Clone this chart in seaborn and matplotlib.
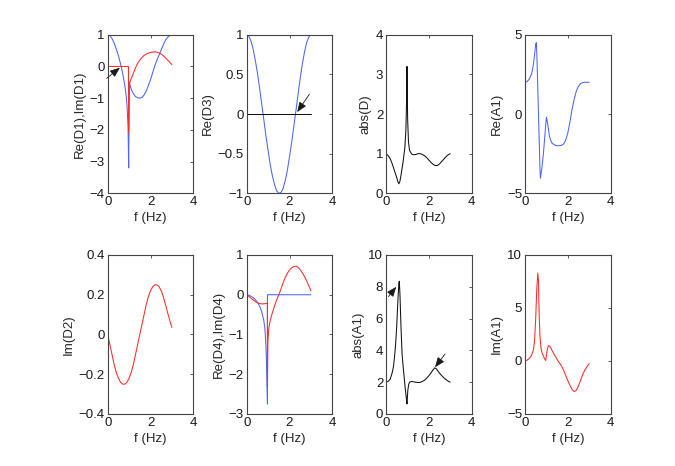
#!/usr/bin/env python3
"""
Frequency response panels: D1..D4, D and A1 against f
"""

import numpy as np
import matplotlib
matplotlib.use('Agg')
import matplotlib.pyplot as plt
import seaborn as sns
from matplotlib.ticker import FuncFormatter

sns.set_theme(style='white')
plt.rcParams['font.family'] = ['Liberation Sans', 'DejaVu Sans']
plt.rcParams['axes.unicode_minus'] = True

# =============================================================================
# DATA
# =============================================================================
# Re(D1), Im(D1)
f_re_d1 = [0, 0.1, 0.2, 0.3, 0.4, 0.5, 0.6, 0.7, 0.8, 0.85, 0.9, 0.95, 0.97, 0.98,
           1.01, 1.1, 1.2, 1.3, 1.4, 1.5, 1.6, 1.7, 1.8, 1.9, 2.0, 2.1, 2.2,
           2.3, 2.4, 2.5, 2.6, 2.7, 2.8, 2.9, 3.0]
re_d1 = [1.0, 0.97, 0.88, 0.74, 0.55, 0.34, 0.08, -0.22, -0.6, -0.85, -1.2, -1.9, -2.7, -3.2,
         -0.5, -0.72, -0.86, -0.95, -0.99, -1.0, -0.98, -0.9, -0.78, -0.6, -0.42, -0.2, 0.02,
         0.2, 0.36, 0.52, 0.68, 0.83, 0.92, 0.98, 1.0]
f_im_d1 = [0, 0.97, 0.975, 1.01, 1.1, 1.2, 1.3, 1.4, 1.5, 1.6, 1.7, 1.8, 1.9, 2.0,
           2.1, 2.2, 2.3, 2.4, 2.5, 2.6, 2.7, 2.8, 2.9, 3.0]
im_d1 = [0.0, 0.0, -2.1, -0.55, -0.38, -0.22, -0.04, 0.1, 0.2, 0.28, 0.35, 0.39, 0.42, 0.44,
         0.45, 0.46, 0.45, 0.43, 0.39, 0.34, 0.27, 0.2, 0.13, 0.06]

# Re(D3)
f_d3 = [0, 0.1, 0.2, 0.3, 0.4, 0.5, 0.6, 0.7, 0.8, 0.9, 1.0, 1.1, 1.2, 1.3, 1.4, 1.5,
        1.6, 1.7, 1.8, 1.9, 2.0, 2.1, 2.2, 2.3, 2.4, 2.5, 2.6, 2.7, 2.8, 2.9, 3.0]
re_d3 = [1.0, 0.98, 0.92, 0.82, 0.68, 0.52, 0.33, 0.13, -0.07, -0.28, -0.46, -0.64, -0.78,
         -0.89, -0.97, -1.0, -0.99, -0.94, -0.84, -0.71, -0.54, -0.36, -0.16, 0.04, 0.25,
         0.45, 0.63, 0.78, 0.9, 0.97, 1.0]
f_zero_line = [0, 3]
zero_line = [0, 0]

# abs(D)
f_abs_d = [0, 0.1, 0.2, 0.3, 0.4, 0.5, 0.55, 0.6, 0.65, 0.7, 0.8, 0.88, 0.93, 0.96, 0.98,
           1.01, 1.05, 1.1, 1.2, 1.3, 1.4, 1.5, 1.6, 1.7, 1.8, 1.9, 2.0, 2.1, 2.2, 2.3,
           2.4, 2.5, 2.6, 2.7, 2.8, 2.9, 3.0]
abs_d = [1.0, 0.95, 0.87, 0.73, 0.56, 0.4, 0.3, 0.24, 0.3, 0.45, 0.8, 1.15, 1.6, 2.3, 3.2,
         1.9, 1.3, 1.08, 0.99, 0.97, 0.98, 1.0, 1.0, 0.98, 0.95, 0.9, 0.84, 0.78, 0.73, 0.7,
         0.7, 0.74, 0.8, 0.86, 0.92, 0.97, 1.0]

# Re(A1)
f_re_a1 = [0, 0.1, 0.2, 0.3, 0.35, 0.4, 0.45, 0.5, 0.53, 0.56, 0.6, 0.65, 0.7, 0.72, 0.78,
           0.86, 0.95, 1.0, 1.06, 1.1, 1.14, 1.2, 1.25, 1.3, 1.4, 1.5, 1.6, 1.7, 1.8, 1.9,
           2.0, 2.1, 2.2, 2.3, 2.4, 2.5, 2.6, 2.7, 2.8, 2.9, 3.0]
re_a1 = [2.0, 2.05, 2.2, 2.5, 2.8, 3.2, 3.8, 4.4, 4.5, 3.5, 1.5, -1.0, -3.5, -4.05, -3.5,
         -2.5, -1.0, -0.2, -0.6, -1.0, -1.39, -1.65, -1.8, -1.88, -1.97, -2.0, -2.0, -1.98,
         -1.9, -1.65, -1.2, -0.5, 0.3, 0.95, 1.45, 1.75, 1.92, 1.98, 2.0, 2.0, 2.0]

# Im(D2)
f_d2 = [0, 0.1, 0.2, 0.3, 0.4, 0.5, 0.6, 0.7, 0.8, 0.9, 1.0, 1.1, 1.2, 1.3, 1.4, 1.5,
        1.6, 1.7, 1.8, 1.9, 2.0, 2.1, 2.2, 2.3, 2.4, 2.5, 2.6, 2.7, 2.8, 2.9, 3.0]
im_d2 = [0.0, -0.05, -0.1, -0.15, -0.19, -0.22, -0.24, -0.25, -0.25, -0.24, -0.22, -0.19,
         -0.15, -0.1, -0.05, 0.0, 0.05, 0.1, 0.15, 0.19, 0.22, 0.24, 0.25, 0.25, 0.24, 0.22,
         0.19, 0.15, 0.11, 0.07, 0.035]

# Re(D4), Im(D4)
f_re_d4 = [0, 0.1, 0.2, 0.3, 0.4, 0.5, 0.6, 0.7, 0.8, 0.85, 0.9, 0.93, 0.95, 0.97, 0.97,
           3.0]
re_d4 = [0.0, -0.01, -0.04, -0.07, -0.12, -0.19, -0.28, -0.42, -0.65, -0.85, -1.3, -1.8,
         -2.3, -2.75, 0.0, 0.0]
f_im_d4 = [0, 0.1, 0.2, 0.3, 0.4, 0.5, 0.6, 0.7, 0.8, 0.9, 0.965, 0.97, 0.99, 1.03, 1.1,
           1.2, 1.3, 1.4, 1.5, 1.6, 1.7, 1.8, 1.9, 2.0, 2.1, 2.2, 2.3, 2.4, 2.5, 2.6, 2.7,
           2.8, 2.9, 3.0]
im_d4 = [0.0, -0.04, -0.09, -0.13, -0.17, -0.2, -0.22, -0.23, -0.23, -0.22, -0.21, -2.35,
         -1.2, -0.85, -0.65, -0.45, -0.28, -0.13, 0.0, 0.14, 0.3, 0.43, 0.54, 0.62, 0.68,
         0.71, 0.72, 0.69, 0.63, 0.55, 0.46, 0.35, 0.23, 0.1]

# abs(A1)
f_abs_a1 = [0, 0.1, 0.2, 0.3, 0.35, 0.4, 0.45, 0.5, 0.55, 0.6, 0.62, 0.65, 0.7, 0.75, 0.8,
            0.85, 0.9, 0.95, 0.98, 1.02, 1.06, 1.1, 1.2, 1.3, 1.4, 1.5, 1.6, 1.7, 1.8, 1.9,
            2.0, 2.1, 2.2, 2.28, 2.35, 2.4, 2.5, 2.6, 2.7, 2.8, 2.9, 3.0]
abs_a1 = [2.0, 2.05, 2.2, 2.65, 3.0, 3.6, 4.4, 5.5, 7.0, 8.2, 8.35, 7.6, 5.5, 3.8, 3.0,
          2.3, 1.6, 1.0, 0.63, 1.5, 1.85, 2.0, 2.05, 2.02, 2.0, 1.98, 1.99, 2.05, 2.12, 2.25,
          2.4, 2.58, 2.78, 2.9, 2.85, 2.75, 2.57, 2.42, 2.28, 2.17, 2.07, 2.0]

# Im(A1)
f_im_a1 = [0, 0.1, 0.2, 0.3, 0.4, 0.45, 0.5, 0.55, 0.6, 0.63, 0.66, 0.7, 0.75, 0.8, 0.86,
           0.92, 0.97, 1.0, 1.04, 1.1, 1.15, 1.2, 1.3, 1.4, 1.5, 1.6, 1.7, 1.8, 1.9, 2.0,
           2.1, 2.2, 2.3, 2.4, 2.5, 2.6, 2.7, 2.8, 2.9, 3.0]
im_a1 = [0.0, 0.08, 0.25, 0.5, 1.1, 2.0, 4.0, 6.8, 8.3, 7.5, 4.5, 2.3, 1.2, 0.75, 0.45,
         0.2, 0.05, 0.5, 1.1, 1.45, 1.4, 1.25, 0.85, 0.5, 0.15, -0.15, -0.45, -0.85, -1.35,
         -1.85, -2.3, -2.7, -2.88, -2.75, -2.35, -1.8, -1.25, -0.85, -0.52, -0.25]

# =============================================================================
# PLOT
# =============================================================================
BLUE = '#4a64ff'
RED = '#ff2a2a'
BLACK = '#111111'
FS = 9.5

fig = plt.figure(figsize=(6.75, 4.66), dpi=100)
lefts = [107.7 / 675, 246.7 / 675, 386 / 675, 525 / 675]
width = 85.6 / 675
rows = [(0.5852, 0.3403), (0.1116, 0.3412)]

fmt = FuncFormatter(lambda v, pos: f'{v:g}'.replace('-', '\u2212'))


def panel(ax, series, ylim, yticks, ylabel):
    for fx, fy, col in series:
        sns.lineplot(x=fx, y=fy, ax=ax, color=col, lw=0.75,
                     estimator=None, sort=False)
    ax.set_xlim(0, 4)
    ax.set_ylim(*ylim)
    ax.set_xticks([0, 2, 4])
    ax.set_yticks(yticks)
    ax.xaxis.set_major_formatter(fmt)
    ax.yaxis.set_major_formatter(fmt)
    ax.tick_params(direction='in', length=2.5, width=0.5, labelsize=FS,
                   top=True, right=True, pad=2, colors='k')
    for s in ax.spines.values():
        s.set_linewidth(0.8)
        s.set_color('#444444')
    ax.set_xlabel('f (Hz)', fontsize=FS, labelpad=3)
    ax.set_ylabel(ylabel, fontsize=FS, labelpad=3)


def arrow(ax, tail, head):
    ax.annotate('', xy=head, xytext=tail, annotation_clip=False,
                arrowprops=dict(arrowstyle='-|>,head_length=0.5,head_width=0.2',
                                color='k', lw=0.6, mutation_scale=12,
                                shrinkA=0, shrinkB=0))


axes = []
for r, (b, h) in enumerate(rows):
    for c in range(4):
        axes.append(fig.add_axes([lefts[c], b, width, h]))

panel(axes[0], [(f_re_d1, re_d1, BLUE), (f_im_d1, im_d1, RED)],
      (-4, 1), [-4, -3, -2, -1, 0, 1], 'Re(D1),Im(D1)')
arrow(axes[0], (-0.05, -0.375), (0.57, -0.04))

panel(axes[1], [(f_d3, re_d3, BLUE), (f_zero_line, zero_line, BLACK)],
      (-1, 1), [-1, -0.5, 0, 0.5, 1], 'Re(D3)')
arrow(axes[1], (2.93, 0.25), (2.36, 0.025))

panel(axes[2], [(f_abs_d, abs_d, BLACK)],
      (0, 4), [0, 1, 2, 3, 4], 'abs(D)')

panel(axes[3], [(f_re_a1, re_a1, BLUE)],
      (-5, 5), [-5, 0, 5], 'Re(A1)')

panel(axes[4], [(f_d2, im_d2, RED)],
      (-0.4, 0.4), [-0.4, -0.2, 0, 0.2, 0.4], 'Im(D2)')

panel(axes[5], [(f_re_d4, re_d4, BLUE), (f_im_d4, im_d4, RED)],
      (-3, 1), [-3, -2, -1, 0, 1], 'Re(D4),Im(D4)')

panel(axes[6], [(f_abs_a1, abs_a1, BLACK)],
      (0, 10), [0, 2, 4, 6, 8, 10], 'abs(A1)')
arrow(axes[6], (0.11, 7.38), (0.48, 8.0))
arrow(axes[6], (2.76, 3.77), (2.29, 2.94))

panel(axes[7], [(f_im_a1, im_a1, RED)],
      (-5, 10), [-5, 0, 5, 10], 'Im(A1)')

plt.savefig('out.png', dpi=100)
print("Saved: out.png")
